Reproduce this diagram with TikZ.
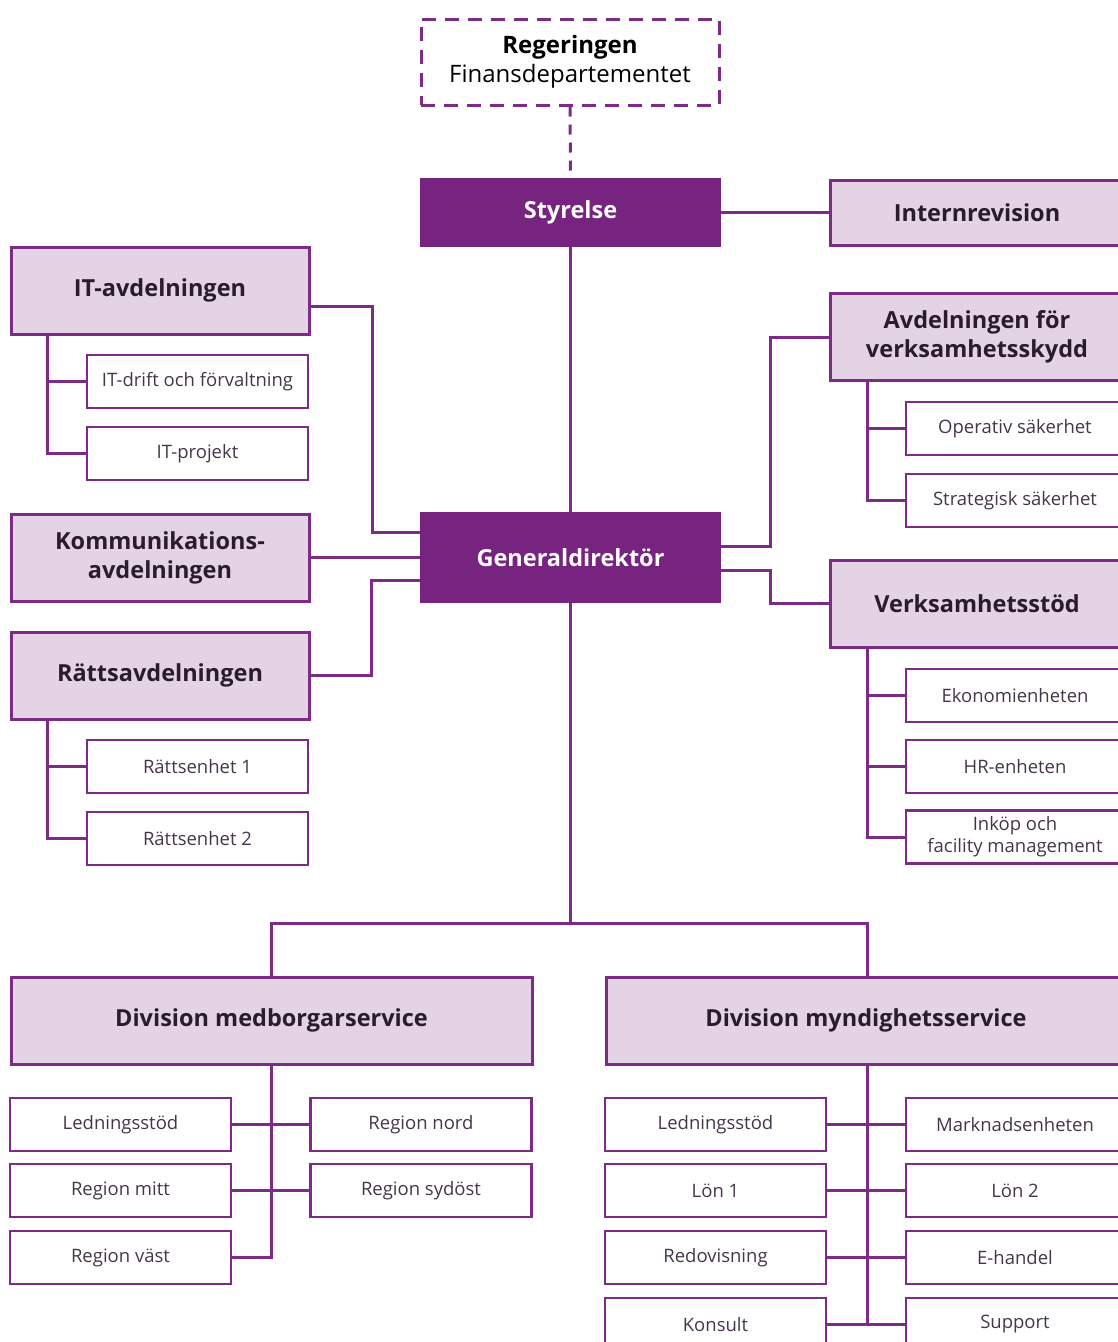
\documentclass[tikz,border=0pt]{standalone}
\usepackage{fontspec}
\setmainfont{Open Sans}
\usetikzlibrary{positioning}
\usepackage{xcolor}
\definecolor{orgPurple}{RGB}{118,36,128}
\definecolor{lineViolet}{RGB}{124,44,134}
\definecolor{unitFill}{RGB}{227,211,229}
\definecolor{unitText}{RGB}{42,28,46}
\definecolor{subText}{RGB}{70,54,74}

\begin{document}
\begin{tikzpicture}[
    x=1pt, y=-1pt,
    topbox/.style={rectangle, draw=orgPurple, fill=orgPurple, text=white, line width=2pt, inner sep=0pt, font=\fontsize{23.5}{28}\selectfont\bfseries, minimum width=299pt},
    unitbox/.style={rectangle, draw=lineViolet, fill=unitFill, text=unitText, line width=3pt, inner sep=0pt, align=center, font=\fontsize{23.5}{29}\selectfont\bfseries, minimum width=298pt, minimum height=87pt},
    subbox/.style={rectangle, draw=lineViolet, fill=white, text=subText, line width=2.5pt, inner sep=0pt, align=center, font=\fontsize{18.5}{22}\selectfont, minimum width=221pt, minimum height=53pt},
    govbox/.style={rectangle, draw=lineViolet, line width=3pt, dash pattern=on 14pt off 9pt, inner sep=0pt, align=center, text=black, font=\fontsize{24}{29.5}\selectfont, minimum width=298pt, minimum height=86pt},
    conn/.style={draw=lineViolet, line width=3pt}
]
\useasboundingbox (0,0) rectangle (1118,1342);
\clip (0,0) rectangle (1118,1342);

% top
\node[govbox] (gov) at (570,62) {\textbf{Regeringen}\\Finansdepartementet};
\node[topbox, minimum height=67pt] (styr) at (570.5,212.5) {Styrelse};
\node[unitbox, minimum width=294pt, minimum height=65pt] (intrev) at (977,212.5) {Internrevision};
\node[topbox, minimum height=89pt] (gd) at (570.5,557.5) {Generaldirektör};

% left side
\node[unitbox] (itavd) at (160,290.5) {IT-avdelningen};
\node[subbox] (itdrift) at (197.5,381.5) {IT-drift och förvaltning};
\node[subbox] (itproj) at (197.5,453.5) {IT-projekt};
\node[unitbox] (komm) at (160,557.5) {Kommunikations-\\avdelningen};
\node[unitbox] (ratt) at (160,675.5) {Rättsavdelningen};
\node[subbox] (ratt1) at (197.5,766.5) {Rättsenhet 1};
\node[subbox] (ratt2) at (197.5,838.5) {Rättsenhet 2};

% right side
\node[unitbox, minimum width=294pt] (skydd) at (977,337) {Avdelningen för\\verksamhetsskydd};
\node[subbox, minimum width=218pt] (opsak) at (1015,428.5) {Operativ säkerhet};
\node[subbox, minimum width=218pt] (strsak) at (1015,500.5) {Strategisk säkerhet};
\node[unitbox, minimum width=294pt] (vstod) at (977,603.5) {Verksamhetsstöd};
\node[subbox, minimum width=218pt] (ekon) at (1015,695.5) {Ekonomienheten};
\node[subbox, minimum width=218pt] (hr) at (1015,766.5) {HR-enheten};
\node[subbox, minimum width=218pt, font=\fontsize{18.5}{22}\selectfont] (inkop) at (1015,837) {Inköp och\\facility management};

% divisions
\node[unitbox, minimum width=521pt] (divm) at (271.5,1020.5) {Division medborgarservice};
\node[subbox] (lsm) at (120.5,1124.5) {Ledningsstöd};
\node[subbox] (rmitt) at (120.5,1190.5) {Region mitt};
\node[subbox] (rvast) at (120.5,1257.5) {Region väst};
\node[subbox] (rnord) at (421,1124.5) {Region nord};
\node[subbox] (rsyd) at (421,1190.5) {Region sydöst};

\node[unitbox, minimum width=520pt] (divy) at (866,1020.5) {Division myndighetsservice};
\node[subbox] (lsy) at (715.5,1124.5) {Ledningsstöd};
\node[subbox] (lon1) at (715.5,1190.5) {Lön 1};
\node[subbox] (redov) at (715.5,1257.5) {Redovisning};
\node[subbox] (kons) at (715.5,1324.5) {Konsult};
\node[subbox, minimum width=218pt] (mark) at (1015,1124.5) {Marknadsenheten};
\node[subbox, minimum width=218pt] (lon2) at (1015,1190.5) {Lön 2};
\node[subbox, minimum width=218pt] (ehand) at (1015,1257.5) {E-handel};
\node[subbox, minimum width=218pt] (supp) at (1015,1324.5) {Support};

% connectors
\draw[conn, dash pattern=on 10pt off 8pt] (gov.south) -- (styr.north);
\draw[conn] (styr) -- (intrev);
\draw[conn] (styr.south) -- (gd.north);

\draw[conn] ([yshift=-15.5pt]itavd.east) -- ++(62,0) |- ([yshift=25.5pt]gd.west);
\draw[conn] (komm.east) -- (gd.west);
\draw[conn] (ratt.east) -- ++(61,0) |- ([yshift=-23pt]gd.west);
\draw[conn] ([yshift=11pt]gd.east) -- ++(49,0) |- (skydd.west);
\draw[conn] ([yshift=-12.5pt]gd.east) -- ++(49,0) |- (vstod.west);

\coordinate (itbus) at ([xshift=-113pt]itavd.south);
\draw[conn] (itbus) |- (itproj.west);
\draw[conn] (itbus |- itdrift.west) -- (itdrift.west);
\coordinate (rattbus) at ([xshift=-113pt]ratt.south);
\draw[conn] (rattbus) |- (ratt2.west);
\draw[conn] (rattbus |- ratt1.west) -- (ratt1.west);
\coordinate (skyddbus) at ([xshift=-110pt]skydd.south);
\draw[conn] (skyddbus) |- (strsak.west);
\draw[conn] (skyddbus |- opsak.west) -- (opsak.west);
\coordinate (vstodbus) at ([xshift=-110pt]vstod.south);
\draw[conn] (vstodbus) |- (inkop.west);
\draw[conn] (vstodbus |- ekon.west) -- (ekon.west);
\draw[conn] (vstodbus |- hr.west) -- (hr.west);

\coordinate (split) at (570.5,923);
\draw[conn] (gd.south) -- (split);
\draw[conn] (divm.north) |- (split) -| ([xshift=1pt]divy.north);

\draw[conn] (divm.south) |- (rvast.east);
\draw[conn] (lsm.east) -- (rnord.west);
\draw[conn] (rmitt.east) -- (rsyd.west);
\draw[conn] ([xshift=1pt]divy.south) -- ([xshift=1pt]divy.south |- kons.east);
\draw[conn] (lsy.east) -- (mark.west);
\draw[conn] (lon1.east) -- (lon2.west);
\draw[conn] (redov.east) -- (ehand.west);
\draw[conn] (kons.east) -- (supp.west);
\end{tikzpicture}
\end{document}
